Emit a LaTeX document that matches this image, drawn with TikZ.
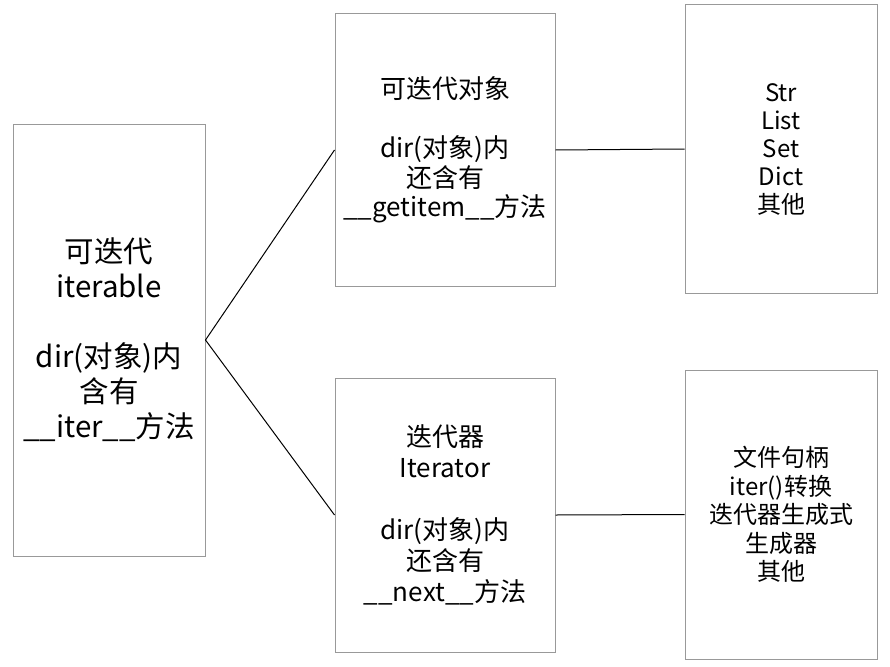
\documentclass[tikz,border=0pt]{standalone}
\usepackage{fontspec}
\setmainfont{Noto Sans CJK SC}
\begin{document}
\begin{tikzpicture}[x=1pt,y=-1pt,
  box/.style={draw=black!40, line width=1pt, inner sep=0pt, align=center},
  conn/.style={draw=black, line width=1pt}]
\useasboundingbox (0,0) rectangle (890,666);
\node[box, minimum width=192pt, minimum height=432pt, font=\fontsize{29.5}{35}\selectfont] (L) at (109,340)
  {可迭代\\iterable\\~\\dir(对象)内\\含有\\\_\_iter\_\_方法};
\node[box, minimum width=220pt, minimum height=272pt, font=\fontsize{26}{29.5}\selectfont] (MT) at (445,150)
  {可迭代对象\\~\\dir(对象)内\\还含有\\\_\_getitem\_\_方法};
\node[box, minimum width=220pt, minimum height=274pt, font=\fontsize{26}{31}\selectfont] (MB) at (445,515)
  {迭代器\\Iterator\\~\\dir(对象)内\\还含有\\\_\_next\_\_方法};
\node[box, minimum width=192pt, minimum height=288pt, font=\fontsize{24}{28}\selectfont] (RT) at (781,149)
  {Str\\List\\Set\\Dict\\其他};
\node[box, minimum width=192pt, minimum height=289pt, font=\fontsize{24}{28.5}\selectfont] (RB) at (781,514.5)
  {文件句柄\\iter()转换\\迭代器生成式\\生成器\\其他};
\draw[conn] (L.east) -- (MT.west);
\draw[conn] (L.east) -- (MB.west);
\draw[conn] (MT.east) -- (RT.west);
\draw[conn] (MB.east) -- (RB.west);
\end{tikzpicture}
\end{document}
